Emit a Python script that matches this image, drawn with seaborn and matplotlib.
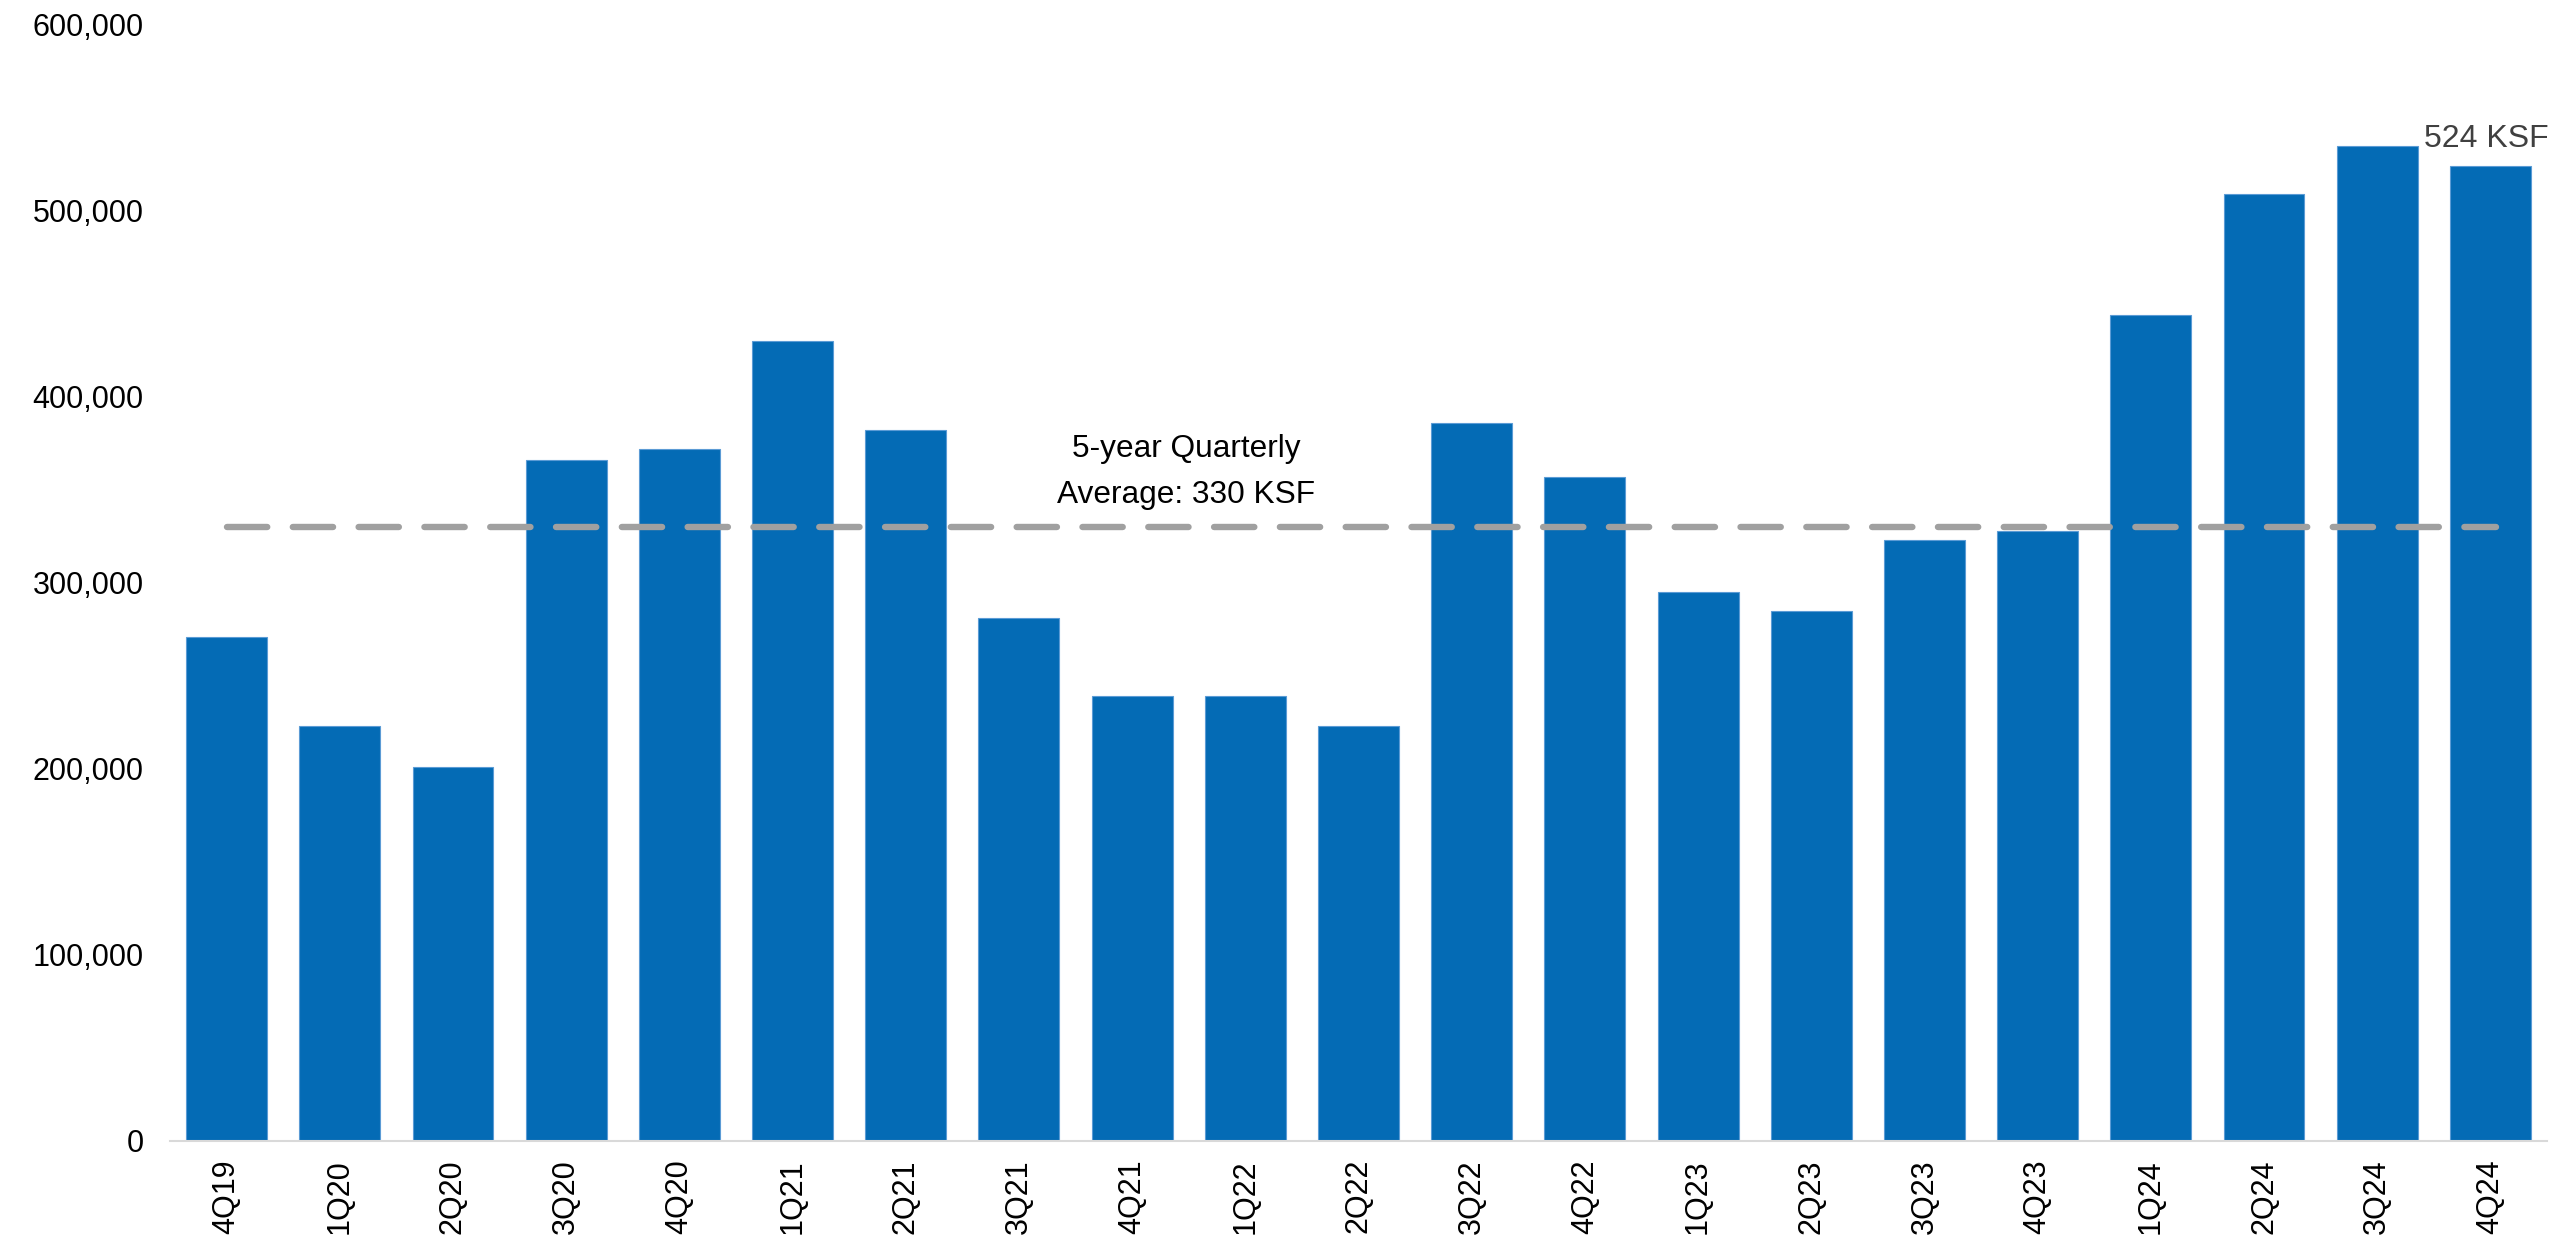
import matplotlib
matplotlib.use("Agg")
import matplotlib.pyplot as plt
import matplotlib.ticker as mticker
import seaborn as sns
import pandas as pd

quarters = ["4Q19", "1Q20", "2Q20", "3Q20", "4Q20", "1Q21", "2Q21", "3Q21", "4Q21",
            "1Q22", "2Q22", "3Q22", "4Q22", "1Q23", "2Q23", "3Q23", "4Q23",
            "1Q24", "2Q24", "3Q24", "4Q24"]
absorption = [271000, 223000, 201000, 366000, 372000, 430000, 382000, 281000, 239000,
              239000, 223000, 386000, 357000, 295000, 285000, 323000, 328000,
              444000, 509000, 535000, 524000]
average_value = 330000
avg_label_lines = ["5-year Quarterly", "Average: 330 KSF"]
last_label = "524 KSF"
y_ticks = [0, 100000, 200000, 300000, 400000, 500000, 600000]

df = pd.DataFrame({"quarter": quarters, "value": absorption})

sns.set_theme(style="white")
plt.rcParams["font.family"] = ["Liberation Sans", "DejaVu Sans"]

fig = plt.figure(figsize=(25.7, 12.42), dpi=100)
ax = fig.add_axes([170 / 2570, 101 / 1242, 2377 / 2570, 1116 / 1242])

sns.barplot(data=df, x="quarter", y="value", color="#046BB5", saturation=1,
            width=0.715, edgecolor="#5B9BD5", linewidth=0.8, ax=ax)

n = len(quarters)
ax.plot([0, n - 1 + 0.05], [average_value, average_value], color="#A0A0A0",
        linewidth=4.6, dashes=(6.3, 4.0), dash_capstyle="round", zorder=3)

ax.text(8.48, 367700, avg_label_lines[0], ha="center", va="baseline",
        fontsize=22.8, color="black")
ax.text(8.48, 343000, avg_label_lines[1], ha="center", va="baseline",
        fontsize=22.8, color="black")
ax.text(n - 1 - 0.04, 534500, last_label, ha="center",
        va="baseline", fontsize=23, color="#404040")

ax.set_ylim(0, 600000)
ax.set_xlim(-0.5, n - 0.5)
ax.set_yticks(y_ticks)
ax.yaxis.set_major_formatter(mticker.FuncFormatter(lambda v, p: f"{int(v):,}"))
ax.set_xlabel("")
ax.set_ylabel("")
ax.tick_params(axis="y", length=0, pad=19, labelsize=22, labelcolor="black")
ax.tick_params(axis="x", length=0, pad=13, labelsize=22, labelcolor="black",
               rotation=90)
for s in ["top", "right", "left"]:
    ax.spines[s].set_visible(False)
ax.spines["bottom"].set_color("#D9D9D9")
ax.spines["bottom"].set_linewidth(1.5)
ax.grid(False)

fig.savefig("out.png", dpi=100, facecolor="white")
